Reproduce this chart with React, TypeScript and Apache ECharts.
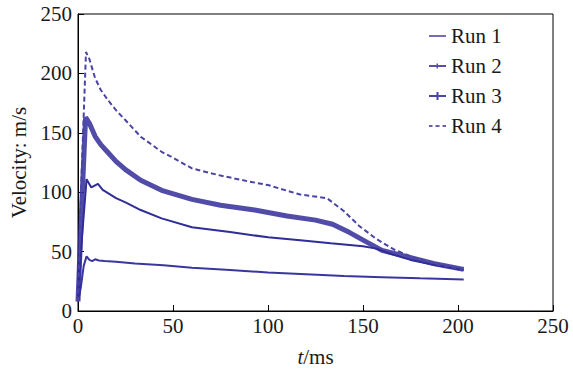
import React, { useEffect, useRef } from "react";
import * as echarts from "echarts";

const xTicks = [0, 50, 100, 150, 200, 250];
const yTicks = [0, 50, 100, 150, 200, 250];

const run1T = [0, 1.5, 3, 4.5, 6, 7.5, 9, 11, 14, 20, 30, 45, 60, 80, 100, 120, 140, 160, 180, 203];
const run1V = [8, 20, 38, 46, 43, 42, 43.5, 42.5, 42, 41.5, 40, 38.5, 36.5, 34.5, 32.5, 31, 29.5, 28.5, 27.5, 26.5];

const run2T = [0, 2, 4, 6, 9, 12, 16, 20, 25, 33, 44, 60, 75, 93, 110, 125, 134, 143, 152, 160, 170, 187, 203];
const run2V = [8, 90, 163, 158, 147, 140, 133, 126, 119, 110, 101.6, 94, 89, 85, 80, 76.5, 73, 66, 58, 51, 47, 40, 35];

const run3T = [0, 2, 4.5, 7, 10.5, 13, 16, 20, 25, 33, 44, 60, 80, 100, 117, 133, 150, 157, 165, 175, 190, 203];
const run3V = [8, 60, 111, 104, 107, 102, 99, 95, 91.5, 85, 78, 70.5, 66.5, 62, 59.5, 57, 54.5, 52.5, 48, 43, 38, 34.5];

const run4T = [0, 2, 4.2, 6, 9, 12, 16, 20, 25, 33, 44, 50, 60, 75, 90, 100, 117, 131, 140, 148, 157, 166, 178, 190, 203];
const run4V = [8, 120, 218, 212, 196, 186, 177, 169, 160.6, 146.7, 134, 129, 120, 114, 109, 106, 98, 95, 84, 71.6, 60.7, 52, 44, 38.8, 34.7];

const names = ["Run 1", "Run 2", "Run 3", "Run 4"];

const pair = (t: number[], v: number[]) => t.map((x, i) => [x, v[i]]);

const FONT = "'Liberation Serif', 'Times New Roman', serif";

export default function App() {
  const ref = useRef<HTMLDivElement>(null);
  useEffect(() => {
    if (!ref.current) return;
    const chart = echarts.init(ref.current, undefined, { renderer: "svg" });
    chart.setOption({
      animation: false,
      backgroundColor: "#ffffff",
      grid: {
        left: 78,
        right: 20,
        top: 14,
        bottom: 53,
        show: true,
        borderColor: "#000",
        borderWidth: 1,
        backgroundColor: "transparent",
      },
      legend: {
        orient: "vertical",
        left: 424,
        top: 20,
        itemWidth: 17,
        itemHeight: 8,
        itemGap: 8,
        symbolKeepAspect: true,
        textStyle: { fontFamily: FONT, fontSize: 21, color: "#1a1a1a", lineHeight: 22 },
        data: [
          { name: names[0], icon: "path://M0,3H17V5H0Z", lineStyle: { width: 2, color: "#7a6cb4" } },
          { name: names[1], icon: "path://M0,3H17V5H0Z M7.5,1.5H9V6.5H7.5Z", lineStyle: { width: 2, color: "#5a4fa8" } },
          { name: names[2], icon: "path://M0,3H17V5H0Z M7.5,0H9.5V8H7.5Z", lineStyle: { width: 2, color: "#4a44a4" } },
          { name: names[3], icon: "path://M0,3H3.5V5H0Z M6.5,3H10.5V5H6.5Z M13.5,3H17V5H13.5Z", lineStyle: { width: 0, color: "#6a5fb0" } },
        ],
      },
      xAxis: {
        type: "value",
        min: 0,
        max: 250,
        interval: 50,
        name: "{i|t}/ms",
        nameLocation: "middle",
        nameGap: 35,
        nameTextStyle: {
          fontFamily: FONT,
          fontSize: 21,
          color: "#1a1a1a",
          rich: { i: { fontFamily: FONT, fontSize: 21, fontStyle: "italic", color: "#1a1a1a" } },
        },
        axisLine: { show: true, lineStyle: { color: "#000", width: 1 } },
        axisTick: { show: true, inside: true, length: 6, lineStyle: { color: "#000" } },
        axisLabel: {
          fontFamily: FONT,
          fontSize: 21,
          color: "#1a1a1a",
          margin: 4,
          customValues: xTicks,
        },
        splitLine: { show: false },
      },
      yAxis: {
        type: "value",
        min: 0,
        max: 250,
        interval: 50,
        name: "Velocity: m/s",
        nameLocation: "middle",
        nameGap: 48,
        nameTextStyle: { fontFamily: FONT, fontSize: 21, color: "#1a1a1a" },
        axisLine: { show: true, lineStyle: { color: "#000", width: 1 } },
        axisTick: { show: true, inside: true, length: 6, lineStyle: { color: "#000" } },
        axisLabel: {
          fontFamily: FONT,
          fontSize: 21,
          color: "#1a1a1a",
          margin: 6,
          customValues: yTicks,
        },
        splitLine: { show: false },
      },
      series: [
        {
          name: names[0],
          type: "line",
          showSymbol: false,
          symbol: "none",
          data: pair(run1T, run1V),
          lineStyle: { color: "#3a36a0", width: 2 },
          itemStyle: { color: "#7a6cb4" },
        },
        {
          name: names[1],
          type: "line",
          showSymbol: false,
          symbol: "none",
          data: pair(run2T, run2V),
          lineStyle: { color: "#312d98", width: 5, opacity: 0.85 },
          itemStyle: { color: "#5a4fa8" },
        },
        {
          name: names[2],
          type: "line",
          showSymbol: false,
          symbol: "none",
          data: pair(run3T, run3V),
          lineStyle: { color: "#302c98", width: 2 },
          itemStyle: { color: "#4a44a4" },
        },
        {
          name: names[3],
          type: "line",
          showSymbol: false,
          symbol: "none",
          data: pair(run4T, run4V),
          lineStyle: { color: "#4a44a4", width: 2, type: [5, 3] },
          itemStyle: { color: "#6a5fb0" },
        },
      ],
    });
    return () => chart.dispose();
  }, []);
  return (
    <div
      ref={ref}
      style={{ position: "absolute", left: 0, top: 0, width: 573, height: 372, background: "#fff" }}
    />
  );
}
